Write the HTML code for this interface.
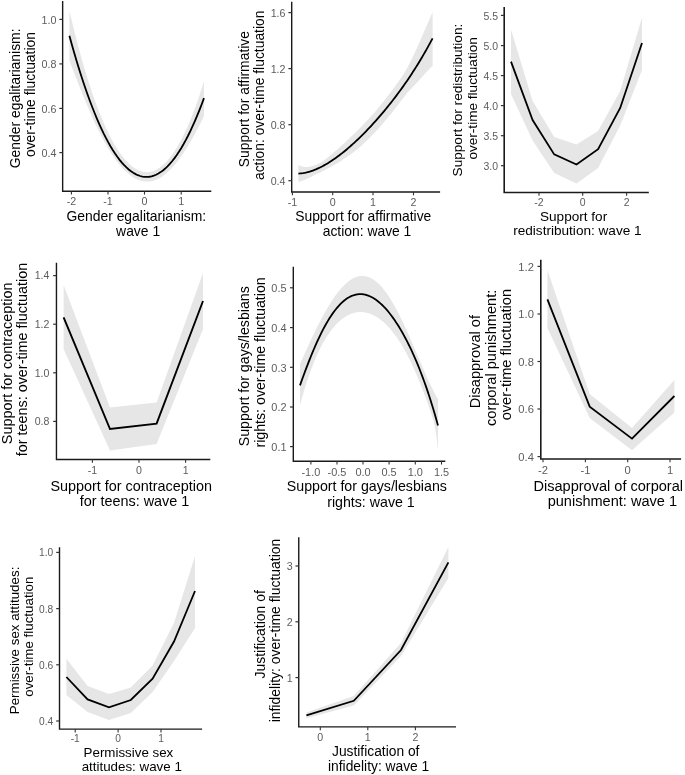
<!DOCTYPE html>
<html><head><meta charset="utf-8"><title>Figure</title>
<style>html,body{margin:0;padding:0;background:#fff}svg{display:block;will-change:transform}text{font-family:"Liberation Sans",sans-serif}</style></head><body>
<svg width="685" height="775" viewBox="0 0 685 775">
<rect width="685" height="775" fill="#fff"/>
<g>
<path d="M69.40,10.69 L71.68,20.32 L73.96,29.63 L76.24,38.62 L78.53,47.29 L80.81,55.65 L83.09,63.70 L85.37,71.45 L87.65,78.89 L89.93,86.03 L92.21,92.88 L94.49,99.42 L96.78,105.68 L99.06,111.64 L101.34,117.32 L103.62,122.70 L105.90,127.80 L108.18,132.62 L110.46,137.16 L112.75,141.41 L115.03,145.38 L117.31,149.08 L119.59,152.50 L121.87,155.64 L124.15,158.50 L126.43,161.09 L128.72,163.41 L131.00,165.45 L133.28,167.21 L135.56,168.70 L137.84,169.92 L140.12,170.86 L142.40,171.53 L144.68,171.92 L146.97,172.04 L149.25,171.88 L151.53,171.44 L153.81,170.73 L156.09,169.73 L158.37,168.46 L160.65,166.90 L162.94,165.06 L165.22,162.94 L167.50,160.53 L169.78,157.83 L172.06,154.84 L174.34,151.56 L176.62,147.99 L178.91,144.11 L181.19,139.94 L183.47,135.47 L185.75,130.70 L188.03,125.61 L190.31,120.22 L192.59,114.51 L194.87,108.49 L197.16,102.14 L199.44,95.47 L201.72,88.48 L204.00,81.15 L204.00,116.03 L201.72,120.65 L199.44,125.16 L197.16,129.56 L194.87,133.83 L192.59,137.96 L190.31,141.94 L188.03,145.77 L185.75,149.45 L183.47,152.95 L181.19,156.28 L178.91,159.43 L176.62,162.39 L174.34,165.15 L172.06,167.72 L169.78,170.08 L167.50,172.24 L165.22,174.18 L162.94,175.90 L160.65,177.40 L158.37,178.68 L156.09,179.73 L153.81,180.55 L151.53,181.15 L149.25,181.50 L146.97,181.62 L144.68,181.51 L142.40,181.16 L140.12,180.57 L137.84,179.75 L135.56,178.69 L133.28,177.40 L131.00,175.87 L128.72,174.10 L126.43,172.11 L124.15,169.89 L121.87,167.44 L119.59,164.77 L117.31,161.88 L115.03,158.77 L112.75,155.45 L110.46,151.92 L108.18,148.20 L105.90,144.27 L103.62,140.15 L101.34,135.85 L99.06,131.37 L96.78,126.71 L94.49,121.89 L92.21,116.91 L89.93,111.79 L87.65,106.51 L85.37,101.11 L83.09,95.58 L80.81,89.94 L78.53,84.18 L76.24,78.34 L73.96,72.41 L71.68,66.40 L69.40,60.33Z" fill="#e6e6e6"/>
<path d="M69.40,35.68 L71.68,43.93 L73.96,51.94 L76.24,59.69 L78.53,67.20 L80.81,74.46 L83.09,81.46 L85.37,88.23 L87.65,94.74 L89.93,101.00 L92.21,107.02 L94.49,112.78 L96.78,118.30 L99.06,123.57 L101.34,128.59 L103.62,133.37 L105.90,137.89 L108.18,142.17 L110.46,146.20 L112.75,149.98 L115.03,153.51 L117.31,156.80 L119.59,159.83 L121.87,162.62 L124.15,165.16 L126.43,167.46 L128.72,169.50 L131.00,171.30 L133.28,172.85 L135.56,174.15 L137.84,175.20 L140.12,176.01 L142.40,176.56 L144.68,176.88 L146.97,176.94 L149.25,176.75 L151.53,176.32 L153.81,175.64 L156.09,174.71 L158.37,173.54 L160.65,172.11 L162.94,170.44 L165.22,168.53 L167.50,166.36 L169.78,163.95 L172.06,161.29 L174.34,158.38 L176.62,155.23 L178.91,151.83 L181.19,148.18 L183.47,144.28 L185.75,140.14 L188.03,135.75 L190.31,131.11 L192.59,126.23 L194.87,121.09 L197.16,115.72 L199.44,110.09 L201.72,104.22 L204.00,98.10" fill="none" stroke="#000" stroke-width="1.8" stroke-linejoin="miter" stroke-miterlimit="6"/>
<path d="M62.65,1.6 L62.65,191.3 L210.6,191.3" fill="none" stroke="#1a1a1a" stroke-width="1.4" stroke-linecap="square" stroke-linejoin="miter"/>
<line x1="59.35" x2="62.65" y1="19.4" y2="19.4" stroke="#333" stroke-width="1.2"/>
<text x="56.45" y="23.58" font-size="10.70" fill="#5c5c5c" text-anchor="end">1.0</text>
<line x1="59.35" x2="62.65" y1="63.9" y2="63.9" stroke="#333" stroke-width="1.2"/>
<text x="56.45" y="68.08" font-size="10.70" fill="#5c5c5c" text-anchor="end">0.8</text>
<line x1="59.35" x2="62.65" y1="108.4" y2="108.4" stroke="#333" stroke-width="1.2"/>
<text x="56.45" y="112.58" font-size="10.70" fill="#5c5c5c" text-anchor="end">0.6</text>
<line x1="59.35" x2="62.65" y1="152.6" y2="152.6" stroke="#333" stroke-width="1.2"/>
<text x="56.45" y="156.78" font-size="10.70" fill="#5c5c5c" text-anchor="end">0.4</text>
<line x1="71.4" x2="71.4" y1="191.3" y2="194.60" stroke="#333" stroke-width="1.1"/>
<text x="71.4" y="205.20" font-size="10.70" fill="#5c5c5c" text-anchor="middle">-2</text>
<line x1="108" x2="108" y1="191.3" y2="194.60" stroke="#333" stroke-width="1.1"/>
<text x="108" y="205.20" font-size="10.70" fill="#5c5c5c" text-anchor="middle">-1</text>
<line x1="144.5" x2="144.5" y1="191.3" y2="194.60" stroke="#333" stroke-width="1.1"/>
<text x="144.5" y="205.20" font-size="10.70" fill="#5c5c5c" text-anchor="middle">0</text>
<line x1="181.2" x2="181.2" y1="191.3" y2="194.60" stroke="#333" stroke-width="1.1"/>
<text x="181.2" y="205.20" font-size="10.70" fill="#5c5c5c" text-anchor="middle">1</text>
<text x="136.32" y="220.60" font-size="13.9" fill="#000" text-anchor="middle">Gender egalitarianism:</text>
<text x="138.12" y="235.61" font-size="13.9" fill="#000" text-anchor="middle">wave 1</text>
<text transform="translate(20.00,98.35) rotate(-90)" font-size="13.9" fill="#000" text-anchor="middle">Gender egalitarianism:</text>
<text transform="translate(35.01,94.55) rotate(-90)" font-size="13.9" fill="#000" text-anchor="middle">over-time fluctuation</text>
</g>
<g>
<path d="M298.40,164.97 L299.91,165.75 L301.42,166.35 L302.92,166.75 L304.43,167.00 L305.94,167.12 L307.45,167.09 L308.96,166.88 L310.46,166.60 L311.97,166.26 L313.48,165.84 L314.99,165.35 L316.49,164.78 L318.00,164.11 L319.51,163.32 L321.02,162.40 L322.53,161.38 L324.03,160.29 L325.54,159.14 L327.05,157.96 L328.56,156.78 L330.07,155.60 L331.57,154.36 L333.08,153.10 L334.59,151.80 L336.10,150.50 L337.60,149.18 L339.11,147.86 L340.62,146.53 L342.13,145.18 L343.64,143.81 L345.14,142.42 L346.65,141.01 L348.16,139.57 L349.67,138.10 L351.18,136.62 L352.68,135.13 L354.19,133.65 L355.70,132.17 L357.21,130.69 L358.71,129.20 L360.22,127.70 L361.73,126.17 L363.24,124.62 L364.75,123.05 L366.25,121.45 L367.76,119.84 L369.27,118.20 L370.78,116.54 L372.29,114.86 L373.79,113.15 L375.30,111.41 L376.81,109.64 L378.32,107.85 L379.82,106.03 L381.33,104.19 L382.84,102.32 L384.35,100.42 L385.86,98.50 L387.36,96.55 L388.87,94.57 L390.38,92.57 L391.89,90.56 L393.40,88.53 L394.90,86.47 L396.41,84.39 L397.92,82.28 L399.43,80.13 L400.93,77.93 L402.44,75.68 L403.95,73.38 L405.46,71.01 L406.97,68.42 L408.47,65.63 L409.98,62.66 L411.49,59.58 L413.00,56.43 L414.51,53.26 L416.01,50.07 L417.52,46.78 L419.03,43.39 L420.54,39.93 L422.04,36.45 L423.55,32.96 L425.06,29.50 L426.57,26.05 L428.08,22.59 L429.58,19.11 L431.09,15.62 L432.60,12.11 L432.60,65.71 L431.09,67.25 L429.58,68.79 L428.08,70.36 L426.57,71.94 L425.06,73.57 L423.55,75.23 L422.04,76.90 L420.54,78.57 L419.03,80.24 L417.52,81.92 L416.01,83.59 L414.51,85.27 L413.00,86.87 L411.49,88.43 L409.98,89.99 L408.47,91.59 L406.97,93.30 L405.46,95.14 L403.95,97.13 L402.44,99.11 L400.93,101.09 L399.43,103.05 L397.92,105.00 L396.41,106.94 L394.90,108.86 L393.40,110.76 L391.89,112.65 L390.38,114.51 L388.87,116.36 L387.36,118.20 L385.86,120.01 L384.35,121.81 L382.84,123.58 L381.33,125.32 L379.82,127.02 L378.32,128.69 L376.81,130.33 L375.30,131.94 L373.79,133.52 L372.29,135.09 L370.78,136.63 L369.27,138.14 L367.76,139.63 L366.25,141.10 L364.75,142.53 L363.24,143.93 L361.73,145.31 L360.22,146.66 L358.71,147.97 L357.21,149.25 L355.70,150.49 L354.19,151.69 L352.68,152.82 L351.18,153.89 L349.67,154.93 L348.16,155.96 L346.65,156.99 L345.14,158.05 L343.64,159.10 L342.13,160.15 L340.62,161.17 L339.11,162.16 L337.60,163.11 L336.10,164.00 L334.59,164.83 L333.08,165.62 L331.57,166.40 L330.07,167.20 L328.56,168.03 L327.05,168.86 L325.54,169.67 L324.03,170.45 L322.53,171.20 L321.02,171.93 L319.51,172.64 L318.00,173.32 L316.49,174.01 L314.99,174.79 L313.48,175.62 L311.97,176.48 L310.46,177.31 L308.96,178.08 L307.45,178.76 L305.94,179.37 L304.43,179.94 L302.92,180.50 L301.42,181.06 L299.91,181.63 L298.40,182.20Z" fill="#e6e6e6"/>
<path d="M298.40,173.53 L299.91,173.43 L301.42,173.28 L302.92,173.08 L304.43,172.83 L305.94,172.52 L307.45,172.17 L308.96,171.76 L310.46,171.32 L311.97,170.82 L313.48,170.29 L314.99,169.71 L316.49,169.08 L318.00,168.42 L319.51,167.72 L321.02,166.98 L322.53,166.21 L324.03,165.39 L325.54,164.54 L327.05,163.66 L328.56,162.75 L330.07,161.80 L331.57,160.82 L333.08,159.81 L334.59,158.77 L336.10,157.70 L337.60,156.60 L339.11,155.47 L340.62,154.32 L342.13,153.14 L343.64,151.93 L345.14,150.70 L346.65,149.44 L348.16,148.16 L349.67,146.86 L351.18,145.53 L352.68,144.18 L354.19,142.80 L355.70,141.41 L357.21,139.99 L358.71,138.55 L360.22,137.08 L361.73,135.60 L363.24,134.10 L364.75,132.57 L366.25,131.02 L367.76,129.46 L369.27,127.87 L370.78,126.26 L372.29,124.63 L373.79,122.98 L375.30,121.31 L376.81,119.61 L378.32,117.90 L379.82,116.17 L381.33,114.41 L382.84,112.63 L384.35,110.83 L385.86,109.01 L387.36,107.16 L388.87,105.29 L390.38,103.40 L391.89,101.49 L393.40,99.55 L394.90,97.58 L396.41,95.59 L397.92,93.57 L399.43,91.53 L400.93,89.46 L402.44,87.36 L403.95,85.24 L405.46,83.08 L406.97,80.90 L408.47,78.68 L409.98,76.44 L411.49,74.16 L413.00,71.84 L414.51,69.50 L416.01,67.12 L417.52,64.70 L419.03,62.24 L420.54,59.75 L422.04,57.22 L423.55,54.65 L425.06,52.03 L426.57,49.38 L428.08,46.68 L429.58,43.93 L431.09,41.14 L432.60,38.31" fill="none" stroke="#000" stroke-width="1.8" stroke-linejoin="miter" stroke-miterlimit="6"/>
<path d="M291.7,2.4 L291.7,192.0 L439.4,192.0" fill="none" stroke="#1a1a1a" stroke-width="1.4" stroke-linecap="square" stroke-linejoin="miter"/>
<line x1="288.40" x2="291.70" y1="12.6" y2="12.6" stroke="#333" stroke-width="1.2"/>
<text x="285.50" y="17.22" font-size="10.68" fill="#5c5c5c" text-anchor="end">1.6</text>
<line x1="288.40" x2="291.70" y1="68.6" y2="68.6" stroke="#333" stroke-width="1.2"/>
<text x="285.50" y="73.22" font-size="10.68" fill="#5c5c5c" text-anchor="end">1.2</text>
<line x1="288.40" x2="291.70" y1="124.7" y2="124.7" stroke="#333" stroke-width="1.2"/>
<text x="285.50" y="129.32" font-size="10.68" fill="#5c5c5c" text-anchor="end">0.8</text>
<line x1="288.40" x2="291.70" y1="180.7" y2="180.7" stroke="#333" stroke-width="1.2"/>
<text x="285.50" y="185.32" font-size="10.68" fill="#5c5c5c" text-anchor="end">0.4</text>
<line x1="292.4" x2="292.4" y1="192.0" y2="195.30" stroke="#333" stroke-width="1.1"/>
<text x="292.4" y="205.80" font-size="10.68" fill="#5c5c5c" text-anchor="middle">-1</text>
<line x1="332.7" x2="332.7" y1="192.0" y2="195.30" stroke="#333" stroke-width="1.1"/>
<text x="332.7" y="205.80" font-size="10.68" fill="#5c5c5c" text-anchor="middle">0</text>
<line x1="373" x2="373" y1="192.0" y2="195.30" stroke="#333" stroke-width="1.1"/>
<text x="373" y="205.80" font-size="10.68" fill="#5c5c5c" text-anchor="middle">1</text>
<line x1="413.5" x2="413.5" y1="192.0" y2="195.30" stroke="#333" stroke-width="1.1"/>
<text x="413.5" y="205.80" font-size="10.68" fill="#5c5c5c" text-anchor="middle">2</text>
<text x="363.25" y="221.20" font-size="13.87" fill="#000" text-anchor="middle">Support for affirmative</text>
<text x="367.05" y="236.30" font-size="13.87" fill="#000" text-anchor="middle">action: wave 1</text>
<text transform="translate(249.00,99.10) rotate(-90)" font-size="13.87" fill="#000" text-anchor="middle">Support for affirmative</text>
<text transform="translate(264.10,95.30) rotate(-90)" font-size="13.87" fill="#000" text-anchor="middle">action: over-time fluctuation</text>
</g>
<g>
<path d="M511.00,29.60 L532.60,101.00 L554.20,137.00 L576.50,144.60 L598.10,131.00 L620.20,91.00 L642.00,17.60 L642.00,70.00 L620.20,125.50 L598.10,168.00 L576.50,183.60 L554.20,173.00 L532.60,140.50 L511.00,94.00Z" fill="#e6e6e6"/>
<path d="M511.00,61.60 L532.60,120.00 L554.20,154.40 L576.50,164.50 L598.10,149.20 L620.20,108.00 L642.00,43.00" fill="none" stroke="#000" stroke-width="1.8" stroke-linejoin="miter" stroke-miterlimit="6"/>
<path d="M504.2,7.9 L504.2,192.5 L648,192.5" fill="none" stroke="#1a1a1a" stroke-width="1.6" stroke-linecap="square" stroke-linejoin="miter"/>
<line x1="500.90" x2="504.20" y1="15.4" y2="15.4" stroke="#333" stroke-width="1.2"/>
<text x="498.00" y="19.50" font-size="10.47" fill="#5c5c5c" text-anchor="end">5.5</text>
<line x1="500.90" x2="504.20" y1="45.6" y2="45.6" stroke="#333" stroke-width="1.2"/>
<text x="498.00" y="49.70" font-size="10.47" fill="#5c5c5c" text-anchor="end">5.0</text>
<line x1="500.90" x2="504.20" y1="75.6" y2="75.6" stroke="#333" stroke-width="1.2"/>
<text x="498.00" y="79.70" font-size="10.47" fill="#5c5c5c" text-anchor="end">4.5</text>
<line x1="500.90" x2="504.20" y1="105.6" y2="105.6" stroke="#333" stroke-width="1.2"/>
<text x="498.00" y="109.70" font-size="10.47" fill="#5c5c5c" text-anchor="end">4.0</text>
<line x1="500.90" x2="504.20" y1="135.7" y2="135.7" stroke="#333" stroke-width="1.2"/>
<text x="498.00" y="139.80" font-size="10.47" fill="#5c5c5c" text-anchor="end">3.5</text>
<line x1="500.90" x2="504.20" y1="165.7" y2="165.7" stroke="#333" stroke-width="1.2"/>
<text x="498.00" y="169.80" font-size="10.47" fill="#5c5c5c" text-anchor="end">3.0</text>
<line x1="539" x2="539" y1="192.5" y2="195.80" stroke="#333" stroke-width="1.1"/>
<text x="539" y="205.50" font-size="10.47" fill="#5c5c5c" text-anchor="middle">-2</text>
<line x1="582.7" x2="582.7" y1="192.5" y2="195.80" stroke="#333" stroke-width="1.1"/>
<text x="582.7" y="205.50" font-size="10.47" fill="#5c5c5c" text-anchor="middle">0</text>
<line x1="626.6" x2="626.6" y1="192.5" y2="195.80" stroke="#333" stroke-width="1.1"/>
<text x="626.6" y="205.50" font-size="10.47" fill="#5c5c5c" text-anchor="middle">2</text>
<text x="573.60" y="220.60" font-size="13.6" fill="#000" text-anchor="middle">Support for</text>
<text x="577.40" y="235.40" font-size="13.6" fill="#000" text-anchor="middle">redistribution: wave 1</text>
<text transform="translate(461.90,100.10) rotate(-90)" font-size="13.6" fill="#000" text-anchor="middle">Support for redistribution:</text>
<text transform="translate(476.70,98.40) rotate(-90)" font-size="13.6" fill="#000" text-anchor="middle">over-time fluctuation</text>
</g>
<g>
<path d="M63.60,285.00 L110.00,407.60 L156.60,402.60 L203.00,273.00 L203.00,329.00 L156.60,444.00 L110.00,450.40 L63.60,349.00Z" fill="#e6e6e6"/>
<path d="M63.60,317.40 L110.00,429.00 L156.60,423.60 L203.00,301.00" fill="none" stroke="#000" stroke-width="1.9" stroke-linejoin="miter" stroke-miterlimit="6"/>
<path d="M56.45,263.4 L56.45,459.55 L209.6,459.55" fill="none" stroke="#1a1a1a" stroke-width="1.4" stroke-linecap="square" stroke-linejoin="miter"/>
<line x1="53.15" x2="56.45" y1="275.6" y2="275.6" stroke="#333" stroke-width="1.2"/>
<text x="49.45" y="279.39" font-size="10.58" fill="#5c5c5c" text-anchor="end">1.4</text>
<line x1="53.15" x2="56.45" y1="324.2" y2="324.2" stroke="#333" stroke-width="1.2"/>
<text x="49.45" y="327.99" font-size="10.58" fill="#5c5c5c" text-anchor="end">1.2</text>
<line x1="53.15" x2="56.45" y1="372.8" y2="372.8" stroke="#333" stroke-width="1.2"/>
<text x="49.45" y="376.59" font-size="10.58" fill="#5c5c5c" text-anchor="end">1.0</text>
<line x1="53.15" x2="56.45" y1="421.4" y2="421.4" stroke="#333" stroke-width="1.2"/>
<text x="49.45" y="425.19" font-size="10.58" fill="#5c5c5c" text-anchor="end">0.8</text>
<line x1="92.4" x2="92.4" y1="459.55" y2="462.85" stroke="#333" stroke-width="1.1"/>
<text x="92.4" y="473.95" font-size="10.58" fill="#5c5c5c" text-anchor="middle">-1</text>
<line x1="139" x2="139" y1="459.55" y2="462.85" stroke="#333" stroke-width="1.1"/>
<text x="139" y="473.95" font-size="10.58" fill="#5c5c5c" text-anchor="middle">0</text>
<line x1="185.6" x2="185.6" y1="459.55" y2="462.85" stroke="#333" stroke-width="1.1"/>
<text x="185.6" y="473.95" font-size="10.58" fill="#5c5c5c" text-anchor="middle">1</text>
<text x="131.22" y="490.80" font-size="14.4" fill="#000" text-anchor="middle">Support for contraception</text>
<text x="134.53" y="506.10" font-size="14.4" fill="#000" text-anchor="middle">for teens: wave 1</text>
<text transform="translate(11.80,363.38) rotate(-90)" font-size="14.4" fill="#000" text-anchor="middle">Support for contraception</text>
<text transform="translate(27.10,359.58) rotate(-90)" font-size="14.4" fill="#000" text-anchor="middle">for teens: over-time fluctuation</text>
</g>
<g>
<path d="M300.00,363.99 L301.55,360.52 L303.10,357.07 L304.65,353.64 L306.20,350.23 L307.75,346.84 L309.30,343.49 L310.85,340.18 L312.40,336.91 L313.96,333.68 L315.51,330.49 L317.06,327.36 L318.61,324.29 L320.16,321.28 L321.71,318.33 L323.26,315.45 L324.81,312.64 L326.36,309.91 L327.91,307.26 L329.46,304.69 L331.01,302.21 L332.56,299.82 L334.11,297.53 L335.66,295.34 L337.21,293.24 L338.76,291.26 L340.31,289.38 L341.87,287.61 L343.42,285.95 L344.97,284.42 L346.52,283.00 L348.07,281.71 L349.62,280.54 L351.17,279.50 L352.72,278.59 L354.27,277.81 L355.82,277.17 L357.37,276.66 L358.92,276.29 L360.47,276.06 L362.02,275.96 L363.57,276.01 L365.12,276.20 L366.67,276.53 L368.22,277.00 L369.78,277.61 L371.33,278.37 L372.88,279.27 L374.43,280.31 L375.98,281.49 L377.53,282.81 L379.08,284.27 L380.63,285.87 L382.18,287.60 L383.73,289.46 L385.28,291.46 L386.83,293.58 L388.38,295.83 L389.93,298.20 L391.48,300.69 L393.03,303.30 L394.58,306.01 L396.13,308.84 L397.69,311.76 L399.24,314.78 L400.79,317.89 L402.34,321.08 L403.89,324.36 L405.44,327.71 L406.99,331.12 L408.54,334.59 L410.09,338.11 L411.64,341.68 L413.19,345.28 L414.74,348.90 L416.29,352.55 L417.84,356.20 L419.39,359.84 L420.94,363.48 L422.49,367.09 L424.04,370.67 L425.60,374.19 L427.15,377.66 L428.70,381.06 L430.25,384.38 L431.80,387.59 L433.35,390.70 L434.90,393.68 L436.45,396.52 L438.00,399.20 L438.00,450.80 L436.45,436.14 L434.90,426.94 L433.35,420.39 L431.80,415.30 L430.25,410.80 L428.70,406.28 L427.15,401.86 L425.60,397.55 L424.04,393.35 L422.49,389.26 L420.94,385.29 L419.39,381.42 L417.84,377.66 L416.29,374.02 L414.74,370.49 L413.19,367.06 L411.64,363.75 L410.09,360.54 L408.54,357.45 L406.99,354.46 L405.44,351.59 L403.89,348.82 L402.34,346.16 L400.79,343.60 L399.24,341.15 L397.69,338.81 L396.13,336.56 L394.58,334.43 L393.03,332.39 L391.48,330.46 L389.93,328.62 L388.38,326.89 L386.83,325.26 L385.28,323.72 L383.73,322.28 L382.18,320.94 L380.63,319.70 L379.08,318.54 L377.53,317.49 L375.98,316.53 L374.43,315.66 L372.88,314.89 L371.33,314.21 L369.78,313.62 L368.22,313.13 L366.67,312.72 L365.12,312.42 L363.57,312.19 L362.02,312.08 L360.47,312.04 L358.92,312.11 L357.37,312.26 L355.82,312.51 L354.27,312.86 L352.72,313.30 L351.17,313.84 L349.62,314.48 L348.07,315.22 L346.52,316.06 L344.97,317.00 L343.42,318.06 L341.87,319.22 L340.31,320.48 L338.76,321.87 L337.21,323.36 L335.66,324.98 L334.11,326.72 L332.56,328.58 L331.01,330.57 L329.46,332.69 L327.91,334.95 L326.36,337.35 L324.81,339.90 L323.26,342.59 L321.71,345.44 L320.16,348.46 L318.61,351.63 L317.06,354.98 L315.51,358.51 L313.96,362.22 L312.40,366.13 L310.85,370.23 L309.30,374.54 L307.75,379.06 L306.20,383.80 L304.65,388.78 L303.10,393.99 L301.55,399.45 L300.00,405.17Z" fill="#e6e6e6"/>
<path d="M300.00,385.38 L301.55,381.02 L303.10,376.74 L304.65,372.52 L306.20,368.38 L307.75,364.32 L309.30,360.35 L310.85,356.47 L312.40,352.69 L313.96,349.01 L315.51,345.43 L317.06,341.96 L318.61,338.59 L320.16,335.34 L321.71,332.21 L323.26,329.19 L324.81,326.29 L326.36,323.51 L327.91,320.86 L329.46,318.33 L331.01,315.92 L332.56,313.64 L334.11,311.49 L335.66,309.46 L337.21,307.56 L338.76,305.79 L340.31,304.14 L341.87,302.62 L343.42,301.23 L344.97,299.97 L346.52,298.83 L348.07,297.82 L349.62,296.93 L351.17,296.17 L352.72,295.53 L354.27,295.01 L355.82,294.61 L357.37,294.33 L358.92,294.17 L360.47,294.12 L362.02,294.19 L363.57,294.38 L365.12,294.68 L366.67,295.09 L368.22,295.61 L369.78,296.24 L371.33,296.97 L372.88,297.81 L374.43,298.76 L375.98,299.81 L377.53,300.96 L379.08,302.22 L380.63,303.57 L382.18,305.02 L383.73,306.57 L385.28,308.21 L386.83,309.95 L388.38,311.79 L389.93,313.72 L391.48,315.75 L393.03,317.87 L394.58,320.08 L396.13,322.39 L397.69,324.79 L399.24,327.28 L400.79,329.87 L402.34,332.56 L403.89,335.34 L405.44,338.21 L406.99,341.19 L408.54,344.27 L410.09,347.45 L411.64,350.73 L413.19,354.11 L414.74,357.61 L416.29,361.22 L417.84,364.94 L419.39,368.77 L420.94,372.73 L422.49,376.82 L424.04,381.03 L425.60,385.37 L427.15,389.85 L428.70,394.48 L430.25,399.25 L431.80,404.18 L433.35,409.26 L434.90,414.52 L436.45,419.95 L438.00,425.56" fill="none" stroke="#000" stroke-width="1.8" stroke-linejoin="miter" stroke-miterlimit="6"/>
<path d="M293.3,267.4 L293.3,461.25 L444.6,461.25" fill="none" stroke="#1a1a1a" stroke-width="1.4" stroke-linecap="square" stroke-linejoin="miter"/>
<line x1="290.00" x2="293.30" y1="287.8" y2="287.8" stroke="#333" stroke-width="1.2"/>
<text x="286.50" y="292.06" font-size="10.93" fill="#5c5c5c" text-anchor="end">0.5</text>
<line x1="290.00" x2="293.30" y1="327.6" y2="327.6" stroke="#333" stroke-width="1.2"/>
<text x="286.50" y="331.86" font-size="10.93" fill="#5c5c5c" text-anchor="end">0.4</text>
<line x1="290.00" x2="293.30" y1="367.3" y2="367.3" stroke="#333" stroke-width="1.2"/>
<text x="286.50" y="371.56" font-size="10.93" fill="#5c5c5c" text-anchor="end">0.3</text>
<line x1="290.00" x2="293.30" y1="407" y2="407" stroke="#333" stroke-width="1.2"/>
<text x="286.50" y="411.26" font-size="10.93" fill="#5c5c5c" text-anchor="end">0.2</text>
<line x1="290.00" x2="293.30" y1="446.6" y2="446.6" stroke="#333" stroke-width="1.2"/>
<text x="286.50" y="450.86" font-size="10.93" fill="#5c5c5c" text-anchor="end">0.1</text>
<line x1="310.9" x2="310.9" y1="461.25" y2="464.55" stroke="#333" stroke-width="1.1"/>
<text x="310.9" y="475.65" font-size="10.93" fill="#5c5c5c" text-anchor="middle">-1.0</text>
<line x1="337" x2="337" y1="461.25" y2="464.55" stroke="#333" stroke-width="1.1"/>
<text x="337" y="475.65" font-size="10.93" fill="#5c5c5c" text-anchor="middle">-0.5</text>
<line x1="363" x2="363" y1="461.25" y2="464.55" stroke="#333" stroke-width="1.1"/>
<text x="363" y="475.65" font-size="10.93" fill="#5c5c5c" text-anchor="middle">0.0</text>
<line x1="389.1" x2="389.1" y1="461.25" y2="464.55" stroke="#333" stroke-width="1.1"/>
<text x="389.1" y="475.65" font-size="10.93" fill="#5c5c5c" text-anchor="middle">0.5</text>
<line x1="415.3" x2="415.3" y1="461.25" y2="464.55" stroke="#333" stroke-width="1.1"/>
<text x="415.3" y="475.65" font-size="10.93" fill="#5c5c5c" text-anchor="middle">1.0</text>
<line x1="441.5" x2="441.5" y1="461.25" y2="464.55" stroke="#333" stroke-width="1.1"/>
<text x="441.5" y="475.65" font-size="10.93" fill="#5c5c5c" text-anchor="middle">1.5</text>
<text x="366.85" y="491.20" font-size="14.2" fill="#000" text-anchor="middle">Support for gays/lesbians</text>
<text x="370.95" y="506.60" font-size="14.2" fill="#000" text-anchor="middle">rights: wave 1</text>
<text transform="translate(249.40,366.22) rotate(-90)" font-size="14.2" fill="#000" text-anchor="middle">Support for gays/lesbians</text>
<text transform="translate(264.80,362.43) rotate(-90)" font-size="14.2" fill="#000" text-anchor="middle">rights: over-time fluctuation</text>
</g>
<g>
<path d="M547.40,270.00 L589.70,394.00 L632.00,428.00 L674.40,380.00 L674.40,412.40 L632.00,450.20 L589.70,418.00 L547.40,328.00Z" fill="#e6e6e6"/>
<path d="M547.40,299.40 L589.70,406.60 L632.00,438.60 L674.40,396.00" fill="none" stroke="#000" stroke-width="1.8" stroke-linejoin="miter" stroke-miterlimit="6"/>
<path d="M540.8,260.6 L540.8,458.95 L680.3,458.95" fill="none" stroke="#1a1a1a" stroke-width="1.6" stroke-linecap="square" stroke-linejoin="miter"/>
<line x1="537.50" x2="540.80" y1="266.4" y2="266.4" stroke="#333" stroke-width="1.2"/>
<text x="533.90" y="270.76" font-size="11.20" fill="#5c5c5c" text-anchor="end">1.2</text>
<line x1="537.50" x2="540.80" y1="314" y2="314" stroke="#333" stroke-width="1.2"/>
<text x="533.90" y="318.36" font-size="11.20" fill="#5c5c5c" text-anchor="end">1.0</text>
<line x1="537.50" x2="540.80" y1="361.5" y2="361.5" stroke="#333" stroke-width="1.2"/>
<text x="533.90" y="365.86" font-size="11.20" fill="#5c5c5c" text-anchor="end">0.8</text>
<line x1="537.50" x2="540.80" y1="409" y2="409" stroke="#333" stroke-width="1.2"/>
<text x="533.90" y="413.36" font-size="11.20" fill="#5c5c5c" text-anchor="end">0.6</text>
<line x1="537.50" x2="540.80" y1="456.6" y2="456.6" stroke="#333" stroke-width="1.2"/>
<text x="533.90" y="460.96" font-size="11.20" fill="#5c5c5c" text-anchor="end">0.4</text>
<line x1="543" x2="543" y1="458.95" y2="462.25" stroke="#333" stroke-width="1.1"/>
<text x="543" y="473.70" font-size="11.20" fill="#5c5c5c" text-anchor="middle">-2</text>
<line x1="585.4" x2="585.4" y1="458.95" y2="462.25" stroke="#333" stroke-width="1.1"/>
<text x="585.4" y="473.70" font-size="11.20" fill="#5c5c5c" text-anchor="middle">-1</text>
<line x1="627.7" x2="627.7" y1="458.95" y2="462.25" stroke="#333" stroke-width="1.1"/>
<text x="627.7" y="473.70" font-size="11.20" fill="#5c5c5c" text-anchor="middle">0</text>
<line x1="670" x2="670" y1="458.95" y2="462.25" stroke="#333" stroke-width="1.1"/>
<text x="670" y="473.70" font-size="11.20" fill="#5c5c5c" text-anchor="middle">1</text>
<text x="608.25" y="490.70" font-size="14.55" fill="#000" text-anchor="middle">Disapproval of corporal</text>
<text x="612.35" y="506.30" font-size="14.55" fill="#000" text-anchor="middle">punishment: wave 1</text>
<text transform="translate(480.00,361.67) rotate(-90)" font-size="14.6" fill="#000" text-anchor="middle">Disapproval of</text>
<text transform="translate(495.60,357.88) rotate(-90)" font-size="14.6" fill="#000" text-anchor="middle">corporal punishment:</text>
<text transform="translate(511.20,354.67) rotate(-90)" font-size="14.6" fill="#000" text-anchor="middle">over-time fluctuation</text>
</g>
<g>
<path d="M66.40,658.80 L87.60,686.00 L109.00,694.00 L130.80,687.40 L152.60,665.60 L174.00,623.00 L195.00,556.00 L195.00,628.00 L174.00,661.00 L152.60,692.00 L130.80,713.00 L109.00,720.00 L87.60,712.00 L66.40,695.00Z" fill="#e6e6e6"/>
<path d="M66.40,677.00 L87.60,699.40 L109.00,707.40 L130.80,700.00 L152.60,678.60 L174.00,641.50 L195.00,591.00" fill="none" stroke="#000" stroke-width="1.8" stroke-linejoin="miter" stroke-miterlimit="6"/>
<path d="M59.5,548 L59.5,729.1 L201.4,729.1" fill="none" stroke="#1a1a1a" stroke-width="1.4" stroke-linecap="square" stroke-linejoin="miter"/>
<line x1="56.20" x2="59.50" y1="552.4" y2="552.4" stroke="#333" stroke-width="1.2"/>
<text x="53.30" y="556.41" font-size="10.21" fill="#5c5c5c" text-anchor="end">1.0</text>
<line x1="56.20" x2="59.50" y1="608.6" y2="608.6" stroke="#333" stroke-width="1.2"/>
<text x="53.30" y="612.61" font-size="10.21" fill="#5c5c5c" text-anchor="end">0.8</text>
<line x1="56.20" x2="59.50" y1="664.8" y2="664.8" stroke="#333" stroke-width="1.2"/>
<text x="53.30" y="668.81" font-size="10.21" fill="#5c5c5c" text-anchor="end">0.6</text>
<line x1="56.20" x2="59.50" y1="721" y2="721" stroke="#333" stroke-width="1.2"/>
<text x="53.30" y="725.01" font-size="10.21" fill="#5c5c5c" text-anchor="end">0.4</text>
<line x1="75.2" x2="75.2" y1="729.1" y2="732.40" stroke="#333" stroke-width="1.1"/>
<text x="75.2" y="742.40" font-size="10.21" fill="#5c5c5c" text-anchor="middle">-1</text>
<line x1="118.1" x2="118.1" y1="729.1" y2="732.40" stroke="#333" stroke-width="1.1"/>
<text x="118.1" y="742.40" font-size="10.21" fill="#5c5c5c" text-anchor="middle">0</text>
<line x1="161" x2="161" y1="729.1" y2="732.40" stroke="#333" stroke-width="1.1"/>
<text x="161" y="742.40" font-size="10.21" fill="#5c5c5c" text-anchor="middle">1</text>
<text x="128.45" y="757.00" font-size="13.35" fill="#000" text-anchor="middle">Permissive sex</text>
<text x="131.75" y="771.42" font-size="13.35" fill="#000" text-anchor="middle">attitudes: wave 1</text>
<text transform="translate(19.00,640.45) rotate(-90)" font-size="13.35" fill="#000" text-anchor="middle">Permissive sex attitudes:</text>
<text transform="translate(33.42,636.65) rotate(-90)" font-size="13.35" fill="#000" text-anchor="middle">over-time fluctuation</text>
</g>
<g>
<path d="M306.40,712.60 L353.80,696.00 L401.00,643.00 L448.40,547.00 L448.40,578.00 L401.00,656.00 L353.80,705.60 L306.40,718.20Z" fill="#e6e6e6"/>
<path d="M306.40,715.40 L353.80,700.80 L401.00,650.00 L448.40,562.40" fill="none" stroke="#000" stroke-width="1.8" stroke-linejoin="miter" stroke-miterlimit="6"/>
<path d="M298.75,538 L298.75,726.9 L455.3,726.9" fill="none" stroke="#1a1a1a" stroke-width="1.4" stroke-linecap="square" stroke-linejoin="miter"/>
<line x1="295.45" x2="298.75" y1="566" y2="566" stroke="#333" stroke-width="1.2"/>
<text x="292.55" y="570.15" font-size="10.63" fill="#5c5c5c" text-anchor="end">3</text>
<line x1="295.45" x2="298.75" y1="621.8" y2="621.8" stroke="#333" stroke-width="1.2"/>
<text x="292.55" y="625.95" font-size="10.63" fill="#5c5c5c" text-anchor="end">2</text>
<line x1="295.45" x2="298.75" y1="677.6" y2="677.6" stroke="#333" stroke-width="1.2"/>
<text x="292.55" y="681.75" font-size="10.63" fill="#5c5c5c" text-anchor="end">1</text>
<line x1="320.3" x2="320.3" y1="726.9" y2="730.20" stroke="#333" stroke-width="1.1"/>
<text x="320.3" y="740.65" font-size="10.63" fill="#5c5c5c" text-anchor="middle">0</text>
<line x1="367.8" x2="367.8" y1="726.9" y2="730.20" stroke="#333" stroke-width="1.1"/>
<text x="367.8" y="740.65" font-size="10.63" fill="#5c5c5c" text-anchor="middle">1</text>
<line x1="415.4" x2="415.4" y1="726.9" y2="730.20" stroke="#333" stroke-width="1.1"/>
<text x="415.4" y="740.65" font-size="10.63" fill="#5c5c5c" text-anchor="middle">2</text>
<text x="375.72" y="756.00" font-size="13.8" fill="#000" text-anchor="middle">Justification of</text>
<text x="378.67" y="770.90" font-size="13.8" fill="#000" text-anchor="middle">infidelity: wave 1</text>
<text transform="translate(265.00,634.35) rotate(-90)" font-size="13.95" fill="#000" text-anchor="middle">Justification of</text>
<text transform="translate(279.90,630.55) rotate(-90)" font-size="13.95" fill="#000" text-anchor="middle">infidelity: over-time fluctuation</text>
</g>
</svg></body></html>
